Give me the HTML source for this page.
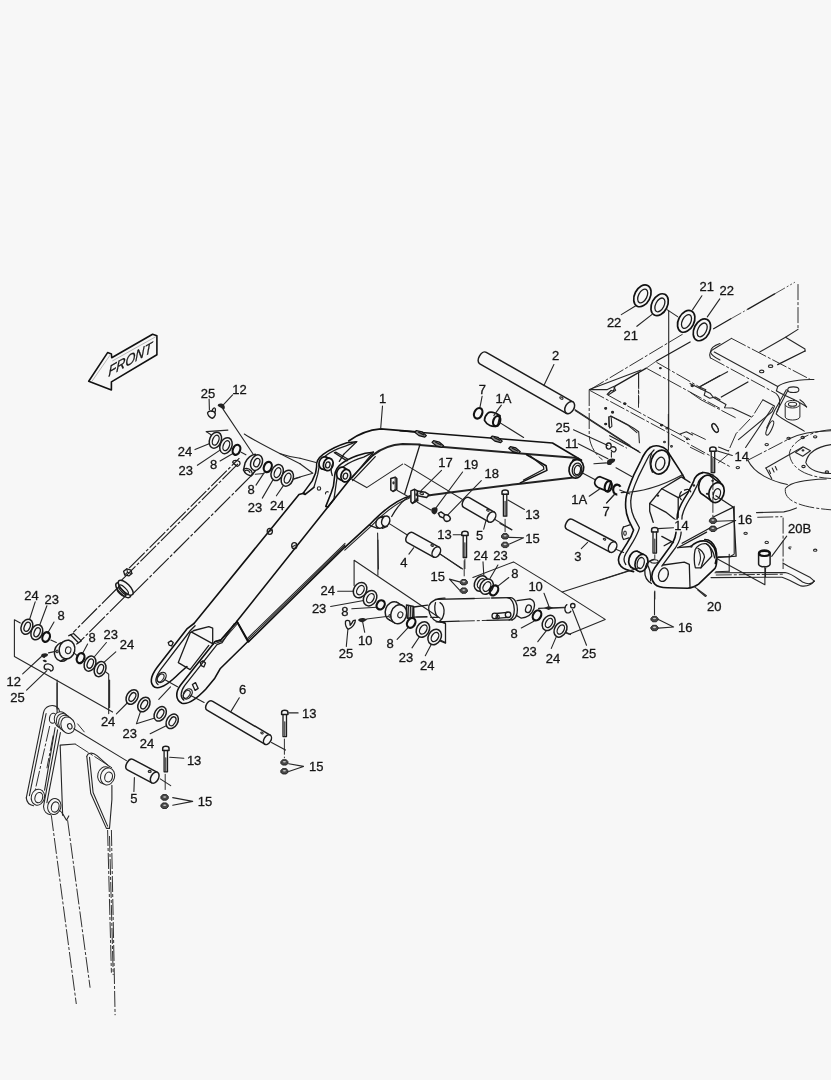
<!DOCTYPE html>
<html><head><meta charset="utf-8"><title>Boom parts diagram</title>
<style>
html,body{margin:0;padding:0;background:#f7f7f7;}
body{width:831px;height:1080px;overflow:hidden;}
svg{display:block;filter:grayscale(1) blur(.4px);}
.k{fill:none;stroke:#1c1c1c;stroke-width:1.3;stroke-linecap:round;stroke-linejoin:round;}
.b{fill:none;stroke:#111;stroke-width:1.6;stroke-linecap:round;stroke-linejoin:round;}
.h{fill:none;stroke:#222;stroke-width:2;stroke-linecap:round;stroke-linejoin:round;}
.t{fill:none;stroke:#262626;stroke-width:1.1;stroke-linecap:round;stroke-linejoin:round;}
.g{fill:none;stroke:#999;stroke-width:.7;}
.d{fill:none;stroke:#262626;stroke-width:.95;stroke-dasharray:16 2 3 2;}
.D{fill:none;stroke:#1c1c1c;stroke-width:1.15;stroke-dasharray:22 2 3 2;}
.p{fill:none;stroke:#2a2a2a;stroke-width:.8;stroke-dasharray:12 2 2 2 2 2;}
.kf{fill:#f7f7f7;stroke:#1c1c1c;stroke-width:1.5;stroke-linejoin:round;}
.tf{fill:#f7f7f7;stroke:#262626;stroke-width:1;stroke-linejoin:round;}
.bf{fill:#f7f7f7;stroke:#111;stroke-width:1.7;stroke-linejoin:round;}
.o{fill:none;stroke:#111;stroke-width:2.2;}
.x{fill:#222;stroke:none;}
.n{fill:#4a4a4a;stroke:#111;stroke-width:.8;stroke-linejoin:round;}
.nh{fill:#c8c8c8;stroke:none;}
.c{fill:#8a8a8a;stroke:#111;stroke-width:1.2;stroke-linejoin:round;}
text{stroke:#151515;stroke-width:.3px;font-family:"Liberation Sans",sans-serif;font-size:13px;fill:#151515;}
</style></head><body>
<svg width="831" height="1080" viewBox="0 0 831 1080">
<!-- FRONT arrow -->
<polygon class="b" points="88.7,381.3 107.6,352.6 111.4,354 111.7,357.8 152.6,334.2 156.9,335.8 156.9,354.8 111.4,381.9 111.4,390"/>
<polyline class="g" points="92.1,381.1 110.5,354.5"/>
<polyline class="g" points="112.3,361 155.8,336.7"/>
<text transform="matrix(.85,-.48,-.04,1.02,108.2,376.9)" style="font-size:15px;font-style:italic">FRONT</text>
<!-- upper clevis, rings 24/23/8, labels 25/12 -->
<text x="200.8" y="397.5">25</text>
<text x="232.3" y="394.4">12</text>
<text x="177.8" y="456.2">24</text>
<text x="178.6" y="475.4">23</text>
<text x="210" y="468.9">8</text>
<text x="247.4" y="493.9">8</text>
<text x="247.7" y="512.2">23</text>
<text x="270.1" y="509.5">24</text>
<polyline class="t" points="209.1,399.1 209.4,409.7"/>
<polyline class="t" points="232.6,394.9 223.5,404.7"/>
<polyline class="t" points="195,449.6 209.1,443.8"/>
<polyline class="t" points="197.4,465.3 220.4,449.9"/>
<polyline class="t" points="220.1,461 232.9,453.5"/>
<polyline class="t" points="256,485.1 264.2,472.6"/>
<polyline class="t" points="262.3,498.1 272.8,480.1"/>
<polyline class="t" points="276.4,495.8 283.7,485.1"/>
<path class="k" d="M207.5 412.9C208.3 410.5 212.2 410.5 214.6 412.1C216.1 413.6 215.4 416.8 212.2 418.3C209.9 417.5 207.9 415.2 207.5 412.9Z"/>
<path class="k" d="M211.9 411.3C212.6 408.2 214.6 406.9 215.4 408.9C215.7 410.5 215.1 412.1 214.6 412.9"/>
<path class="x" d="M217.7 405.8C217.7 403.5 221.6 402.7 224 405C225.5 406.9 224.8 409.7 223.2 409.7C221.6 407.8 219.3 407.4 217.7 405.8Z"/>
<polyline class="t" points="223.2,409.4 252.9,453.8"/>
<polyline class="t" points="206.3,431.6 227.9,430.1"/>
<polyline class="t" points="206.3,431.6 211,434.8"/>
<path class="t" d="M244.3 434C257.6 442.6 279.5 453.5 300 463.7"/>
<path class="t" d="M279.5 453.5C288.9 456.7 295.2 457.7 300 458.2"/>
<polyline class="t" points="293.6,479.3 300,477.3"/>
<ellipse class="kf" cx="215.4" cy="440.2" rx="5.8" ry="8.3" transform="rotate(22 215.4 440.2)"/>
<ellipse class="k" cx="215.7" cy="440.2" rx="3" ry="5.2" transform="rotate(22 215.7 440.2)"/>
<ellipse class="kf" cx="226" cy="445.7" rx="5.8" ry="8.3" transform="rotate(22 226 445.7)"/>
<ellipse class="k" cx="226.3" cy="445.7" rx="3" ry="5.2" transform="rotate(22 226.3 445.7)"/>
<ellipse class="o" cx="236.5" cy="449.8" rx="3.6" ry="5.2" transform="rotate(22 236.5 449.8)"/>
<polyline class="t" points="241.2,452.3 245.9,454.8"/>
<path class="kf" d="M255.3 454.3C251.3 454.8 247.4 458.2 245.1 462.9L243.5 470C245.1 473.9 248.2 475.4 251.3 475.7L255.3 470.7Z"/>
<ellipse class="kf" cx="256.5" cy="462.6" rx="5.6" ry="8.1" transform="rotate(22 256.5 462.6)"/>
<ellipse class="k" cx="256.8" cy="462.6" rx="2.8" ry="4.4" transform="rotate(22 256.8 462.6)"/>
<path class="k" d="M243.5 470C244.3 467.6 248.2 467.6 251.3 470.7C252.6 473.1 252.1 475.1 251.3 475.7"/>
<path class="k" d="M245.1 470.7C246.7 469.5 249 470.4 249.8 472.3"/>
<path class="k" d="M232.6 462.1C233.4 459.8 237.3 459.8 239.6 461.7C240.7 463.7 239.6 465.7 237.3 466.4C235.7 464.5 233.4 464.2 232.6 462.1Z"/>
<polyline class="t" points="255.3,474.2 263.9,473.5"/>
<ellipse class="o" cx="267.8" cy="467" rx="3.8" ry="5.3" transform="rotate(22 267.8 467)"/>
<ellipse class="kf" cx="277.2" cy="472.6" rx="5.8" ry="8.3" transform="rotate(22 277.2 472.6)"/>
<ellipse class="k" cx="277.5" cy="472.6" rx="3" ry="5.2" transform="rotate(22 277.5 472.6)"/>
<ellipse class="kf" cx="287.3" cy="478.2" rx="5.8" ry="8.3" transform="rotate(22 287.3 478.2)"/>
<ellipse class="k" cx="287.6" cy="478.2" rx="3" ry="5.2" transform="rotate(22 287.6 478.2)"/>
<!-- left cylinder body (phantom) -->
<polyline class="D" points="129.1,568.1 239.4,458.1"/>
<polyline class="D" points="119.9,581.9 238.3,463.5"/>
<polyline class="D" points="132.6,594.2 253.5,473.5"/>
<polygon class="k" points="123.6,571.2 126.8,568.9 131,570.1 131.9,573.6 128.8,575.9 124.7,574.8"/>
<polyline class="t" points="126.8,568.9 127.5,572.3 124.7,574.8"/>
<polyline class="t" points="127.5,572.3 131.9,573.6"/>
<ellipse class="kf" cx="123.2" cy="590.2" rx="4.1" ry="9.7" transform="rotate(-45 123.2 590.2)"/>
<ellipse class="kf" cx="125.7" cy="587.7" rx="4.1" ry="9.7" transform="rotate(-45 125.7 587.7)"/>
<ellipse class="k" cx="123.5" cy="589.9" rx="2.5" ry="6.3" transform="rotate(-45 123.5 589.9)"/>
<ellipse class="k" cx="121.3" cy="592" rx="2.3" ry="5.6" transform="rotate(-45 121.3 592)"/>
<polyline class="D" points="117.5,588 73.3,632.3"/>
<polyline class="D" points="125.4,596.1 80.6,640.9"/>
<!-- rod eye + lower rings + labels -->
<text x="24.2" y="599.8">24</text>
<text x="44.6" y="604.1">23</text>
<text x="57.6" y="619.5">8</text>
<text x="88.4" y="641.7">8</text>
<text x="103.6" y="639">23</text>
<text x="119.7" y="649">24</text>
<text x="6.6" y="686.3">12</text>
<text x="10.2" y="701.9">25</text>
<polyline class="t" points="35.2,601.8 29.7,619"/>
<polyline class="t" points="46.9,605.7 39.9,624.5"/>
<polyline class="t" points="54,622.1 47.7,633.1"/>
<polyline class="t" points="87.6,644 82.1,654.2"/>
<polyline class="t" points="106.4,642.5 94.6,656.5"/>
<polyline class="t" points="115.8,651.9 102.5,663.6"/>
<polyline class="t" points="22.7,673.8 41.5,656.5"/>
<polyline class="t" points="26.6,690.2 46.9,670.6"/>
<polyline class="t" points="20.3,622.9 14.4,619.8 14.4,656.5 112.6,712.1"/>
<polyline class="t" points="105.1,671.4 108.7,674.2 108.7,713.6"/>
<polyline class="t" points="57.1,683.1 57.1,709"/>
<ellipse class="kf" cx="26.9" cy="626.8" rx="5.6" ry="7.8" transform="rotate(22 26.9 626.8)"/>
<ellipse class="k" cx="27.2" cy="626.8" rx="2.8" ry="4.8" transform="rotate(22 27.2 626.8)"/>
<ellipse class="kf" cx="36.8" cy="632.3" rx="5.6" ry="7.8" transform="rotate(22 36.8 632.3)"/>
<ellipse class="k" cx="37.1" cy="632.3" rx="2.8" ry="4.8" transform="rotate(22 37.1 632.3)"/>
<ellipse class="o" cx="46.1" cy="637" rx="3.6" ry="5" transform="rotate(22 46.1 637)"/>
<polyline class="t" points="50.8,640.1 56.3,642.5"/>
<ellipse class="kf" cx="62.3" cy="651.9" rx="7.8" ry="9.4" transform="rotate(12 62.3 651.9)"/>
<polygon fill="#f7f7f7" stroke="none" points="60.3,661 65,658.7 68.9,640.3 64.2,642.7"/>
<polyline class="k" points="60.4,661.1 65.1,658.7"/>
<polyline class="k" points="64.1,642.6 68.8,640.3"/>
<ellipse class="kf" cx="67" cy="649.5" rx="7.8" ry="9.4" transform="rotate(12 67 649.5)"/>
<ellipse class="t" cx="68.2" cy="650.3" rx="2.7" ry="3.4" transform="rotate(12 68.2 650.3)"/>
<path class="k" d="M68.8 635.7L73.5 633.5L81.3 640.9L76.7 644"/>
<path class="k" d="M70.7 634.8L78.2 642.5"/>
<ellipse class="t" cx="57.1" cy="651.4" rx="0.9" ry="1.4"/>
<polyline class="t" points="48.5,652.9 55.5,651.4"/>
<polyline class="t" points="73.5,652.6 77.4,655.8"/>
<ellipse class="o" cx="80.6" cy="658.1" rx="3.6" ry="5.2" transform="rotate(22 80.6 658.1)"/>
<ellipse class="kf" cx="90" cy="663.6" rx="5.6" ry="7.8" transform="rotate(22 90 663.6)"/>
<ellipse class="k" cx="90.3" cy="663.6" rx="2.8" ry="4.8" transform="rotate(22 90.3 663.6)"/>
<ellipse class="kf" cx="100.1" cy="669.1" rx="5.6" ry="7.8" transform="rotate(22 100.1 669.1)"/>
<ellipse class="k" cx="100.4" cy="669.1" rx="2.8" ry="4.8" transform="rotate(22 100.4 669.1)"/>
<path class="x" d="M41 655.5C41.5 653.4 45.4 652.6 47.7 653.9C48.8 655 46.9 656.5 45.4 657C44.6 658.9 42.2 657.6 41 655.5Z"/>
<path class="x" d="M42.6 660.5C43.8 659.2 46.1 659.7 46.9 661.2C46.1 662.8 43.8 662.3 42.6 660.5Z"/>
<path class="k" d="M44.6 665.2C46.1 663.3 50.1 663.6 52.4 665.9C54 668.3 53.2 670.6 50.8 671.1C49.7 669.1 46.9 668.6 45.4 669.5C44.1 668.3 43.8 666.7 44.6 665.2Z"/>
<!-- boom knuckle -->
<path class="b" d="M348.7 441C358.8 433.6 371.3 429.7 380.7 428.9L420 432.1"/>
<path class="h" d="M372.9 455.1C382.3 447.7 391.7 444.6 402.6 444L420 444.6"/>
<polyline class="b" points="372.9,455.1 350.2,479"/>
<polyline class="k" points="375.3,456.6 352.6,480.6"/>
<path class="b" d="M410.5 495.7C397.9 499.3 383.9 509.5 369 525.2L345.1 547.1"/>
<path class="t" d="M409.2 498.2C399.5 501.4 385.4 511.4 370.9 526.4L344.8 550.2"/>
<path class="k" d="M410.5 495.7C402.6 500.1 396.4 507.9 391.7 516.5"/>
<path class="k" d="M369 525.2L377.6 528.3"/>
<ellipse class="kf" cx="380.4" cy="522.8" rx="4.4" ry="5.6" transform="rotate(20 380.4 522.8)"/>
<ellipse class="kf" cx="385.7" cy="521.2" rx="3.9" ry="5.3" transform="rotate(20 385.7 521.2)"/>
<polyline class="k" points="379.2,517.6 384.6,516.1"/>
<polyline class="k" points="382.3,528.3 387.3,526.4"/>
<polyline class="t" points="389.3,523.6 406.5,534.5"/>
<polyline class="t" points="377.6,533 378.4,569"/>
<path class="b" d="M356.6 441.7L346.9 442.8C339.3 445.2 330.7 449 323.1 454.4C317.7 458.4 316 462.5 316.6 466.8L315.5 473.3L312.2 480.9L303 493.4L305.2 494.4L313.9 487.4"/>
<path class="k" d="M356.6 441.7L345.3 446.2C338.2 448.4 330.7 451.7 324.7 456.5C320.4 460.3 318.7 463.6 319 467.4L317.7 474.4L313.9 487.4"/>
<polyline class="k" points="356.6,441.7 343.7,454.4"/>
<ellipse class="bf" cx="323.9" cy="463" rx="4.8" ry="6.3" transform="rotate(15 323.9 463)"/>
<polygon fill="#f7f7f7" stroke="none" points="322.3,469.1 326.6,470.5 329.9,458.4 325.6,457"/>
<polyline class="b" points="322.3,469.1 326.6,470.5"/>
<polyline class="b" points="325.6,457 329.9,458.4"/>
<ellipse class="bf" cx="328.3" cy="464.4" rx="4.8" ry="6.3" transform="rotate(15 328.3 464.4)"/>
<ellipse class="k" cx="327.8" cy="464.9" rx="2.2" ry="3" transform="rotate(15 327.8 464.9)"/>
<path class="b" d="M373.4 452.2L365.3 453.3C356.6 455.5 348 458.7 341.5 463.6C337.2 466.6 335.2 470.1 334.7 475.5L333.4 486.3L331.2 492.8L325.8 506.4L327.9 507.1L333.9 499.3"/>
<path class="k" d="M373.4 452.2L363.7 457.1C356.6 459.2 350.2 461.9 344.7 465.7C340.4 468.4 337.7 471.7 337.2 476.6L335.5 488.5L333.9 499.3"/>
<polyline class="k" points="373.4,452.2 352.3,477.7"/>
<ellipse class="bf" cx="341.5" cy="473.3" rx="4.8" ry="6.3" transform="rotate(15 341.5 473.3)"/>
<polygon fill="#f7f7f7" stroke="none" points="339.9,479.4 344.2,481.8 347.4,469.6 343.1,467.3"/>
<polyline class="b" points="339.9,479.4 344.2,481.8"/>
<polyline class="b" points="343.1,467.3 347.4,469.6"/>
<ellipse class="bf" cx="345.8" cy="475.7" rx="4.8" ry="6.3" transform="rotate(15 345.8 475.7)"/>
<ellipse class="k" cx="345.4" cy="476.1" rx="2.2" ry="3" transform="rotate(15 345.4 476.1)"/>
<path class="k" d="M334.4 452.7L346.9 460.9L348 459.2L336.1 452.2Z"/>
<polyline class="k" points="343.7,454.4 339.3,461.4"/>
<path class="k" d="M333.4 462.5C331.2 465.7 330.7 471.2 332.3 475.5"/>
<ellipse class="t" cx="319" cy="488.5" rx="1.7" ry="1.7"/>
<path class="t" d="M325.5 493.9C325.2 492.3 326.9 491.2 328.3 491.9"/>
<polyline class="t" points="300,458.2 316,462.5"/>
<polyline class="t" points="300,463.7 312.8,473.3 293.8,478.7"/>
<polyline class="t" points="350.2,478.2 366.7,487.6 402.6,464.1"/>
<polyline class="b" points="304.5,493 299,494.5 194,623.5"/>
<polyline class="b" points="350.2,479 236.9,621.2 248.6,641.6"/>
<polyline class="b" points="345,546.9 248.6,641.6"/>
<polyline class="t" points="345,545 247.8,640"/>
<polyline class="t" points="345,543.4 247.2,638.6"/>
<polyline class="t" points="236.9,621.2 221.3,639.2 215,641.6"/>
<polyline class="t" points="238,623 222.5,641 215,643.5"/>
<ellipse class="k" cx="269.8" cy="531.3" rx="2.6" ry="3"/>
<polyline class="t" points="267.8,532.3 271.8,530.3"/>
<ellipse class="k" cx="294.3" cy="545.7" rx="2.6" ry="3"/>
<polyline class="t" points="292.3,546.7 296.3,544.7"/>
<!-- boom mid-right + pins 4,5, bolts, labels 17/19/18 -->
<polyline class="b" points="400,430.7 552.5,443 581.5,460.2"/>
<polyline class="h" points="419.6,445.1 530,454.3 577.6,458"/>
<polyline class="k" points="419.6,445.7 404.7,493.9"/>
<path class="h" d="M426.6 495.7C446.9 492.6 478.2 488.7 520.3 483.7L573.5 477.4"/>
<polyline class="b" points="526.6,454.8 546.1,465.7 546.9,470.4 520.3,482.9"/>
<polyline class="k" points="530,455.8 543.5,466.5 543.8,469.3 523.5,480.1"/>
<ellipse class="bf" cx="576.3" cy="468.8" rx="7.2" ry="9.4" transform="rotate(12 576.3 468.8)"/>
<ellipse class="k" cx="577" cy="469.6" rx="4.7" ry="6.6" transform="rotate(12 577 469.6)"/>
<ellipse class="k" cx="577.4" cy="470.1" rx="3.1" ry="4.7" transform="rotate(12 577.4 470.1)"/>
<path class="b" d="M581.3 460.2C578.2 459.1 575.1 459.1 572.7 460.2"/>
<path class="c" d="M416.4 430.5l5.6 1.3l4.4 3.8l-1.6 1.6l-5.9 -1.6l-4.1 -3.4Z"/>
<path class="k" d="M418.5 432.1l5.3 2.8"/>
<path class="c" d="M433.6 440.7l5.6 1.3l4.4 3.8l-1.6 1.6l-5.9 -1.6l-4.1 -3.4Z"/>
<path class="k" d="M435.7 442.2l5.3 2.8"/>
<path class="c" d="M492.3 436l5.6 1.3l4.4 3.8l-1.6 1.6l-5.9 -1.6l-4.1 -3.4Z"/>
<path class="k" d="M494.3 437.5l5.3 2.8"/>
<path class="c" d="M510.3 446.6l5.6 1.3l4.4 3.8l-1.6 1.6l-5.9 -1.6l-4.1 -3.4Z"/>
<path class="k" d="M512.3 448.2l5.3 2.8"/>
<ellipse class="o" cx="478.2" cy="413.3" rx="3.9" ry="5.5" transform="rotate(25 478.2 413.3)"/>
<path class="bf" d="M487.6 413.3C490 411 493.9 411.7 500.1 415.6L497.8 425.8C492.3 427.4 486.8 425 484.5 420.3C484.5 417.2 486 414.9 487.6 413.3Z"/>
<ellipse class="o" cx="496.7" cy="421.1" rx="3.4" ry="5.2" transform="rotate(20 496.7 421.1)"/>
<polyline class="t" points="498.6,421.9 523.6,437.5"/>
<text x="438.3" y="467.3">17</text>
<text x="463.8" y="468.5">19</text>
<text x="484.5" y="477.7">18</text>
<text x="437.2" y="538.9">13</text>
<text x="475.9" y="539.7">5</text>
<polyline class="t" points="441.5,470.4 421.1,490.7"/>
<polyline class="t" points="462.6,472 436,507.9"/>
<polyline class="t" points="481.3,480.6 446.9,515.8"/>
<polyline class="t" points="453.2,534.8 461.8,534.8"/>
<polyline class="t" points="483.7,529.1 486,520.5"/>
<polyline class="t" points="404.7,464.1 511.9,529.8"/>
<path class="kf" d="M463.7 507.3L488.7 521.9L494.3 512.2L469.3 497.6C465.1 495.1 459.4 504.8 463.7 507.3Z"/>
<ellipse class="kf" cx="491.5" cy="517" rx="3.8" ry="5.6" transform="rotate(30.1672956103844 491.5 517)"/>
<ellipse class="t" cx="487.9" cy="510.3" rx="1.3" ry="0.8" transform="rotate(20 487.9 510.3)"/>
<path class="kf" d="M407.5 542.7L433.6 557.1L439 547.1L412.8 532.7C408.6 530.3 403.1 540.2 407.5 542.7Z"/>
<ellipse class="kf" cx="436.3" cy="552.1" rx="3.8" ry="5.6" transform="rotate(28.850289908256386 436.3 552.1)"/>
<ellipse class="t" cx="432.1" cy="545.5" rx="1.3" ry="0.8" transform="rotate(20 432.1 545.5)"/>
<polyline class="t" points="440.4,554.1 462.6,569"/>
<path class="kf" d="M502 492c0 -2.8 6.3 -2.8 6.3 0l0 2.2l-6.3 0Z"/>
<polyline class="k" points="503.4,494.2 503.4,516.2 506.8,516.2 506.8,494.2"/>
<polyline class="t" points="505.1,501.4 505.1,515.9"/>
<polyline class="d" points="505.1,518.9 505.1,532.2"/>
<path class="kf" d="M461.8 533.3c0 -2.8 6.3 -2.8 6.3 0l0 2.2l-6.3 0Z"/>
<polyline class="k" points="463.2,535.5 463.2,557.5 466.6,557.5 466.6,535.5"/>
<polyline class="t" points="464.9,542.7 464.9,557.2"/>
<polyline class="d" points="464.9,558.8 464.9,569"/>
<path class="n" d="M501.5 535.6l1.7 -2l3.8 0l1.7 2l0 1.7l-1.7 1.7l-3.8 0l-1.7 -1.7Z"/>
<ellipse class="nh" cx="505.1" cy="535.8" rx="1.6" ry="0.8"/>
<path class="n" d="M501.5 544.2l1.7 -2l3.8 0l1.7 2l0 1.7l-1.7 1.7l-3.8 0l-1.7 -1.7Z"/>
<ellipse class="nh" cx="505.1" cy="544.4" rx="1.6" ry="0.8"/>
<text x="525.2" y="518.9">13</text>
<text x="525.2" y="543.1">15</text>
<polyline class="t" points="507.9,500.1 524.4,509.5"/>
<polyline class="t" points="509.5,537.4 523.6,537.7 509.5,543.9"/>
<path class="kf" d="M390.8 478.5L395.2 477.2L396.8 478.5L396.8 489.3L393 491.5L390.8 489.9Z"/>
<polyline class="t" points="395.2,477.2 395.2,489.3 393,491.5"/>
<ellipse class="t" cx="393.5" cy="482.8" rx="0.6" ry="1.1"/>
<polyline class="t" points="397.3,490.4 409.8,497.4"/>
<path class="kf" d="M410.9 490.9L414.7 489.3L417.4 490.9L417.7 500.7L412.5 503.4L410.9 501.8Z"/>
<polyline class="k" points="414.7,489.3 414.9,500.7 412.5,503.4"/>
<polyline class="k" points="414.9,500.7 417.7,500.7"/>
<path class="kf" d="M417.4 490.9L425.5 492.3L429 494.7L426.6 497.4L417.7 495.8Z"/>
<ellipse class="t" cx="421.7" cy="493.6" rx="1.9" ry="0.9" transform="rotate(15 421.7 493.6)"/>
<ellipse class="t" cx="416.3" cy="494.7" rx="0.5" ry="0.8"/>
<ellipse class="t" cx="416.3" cy="499.6" rx="0.5" ry="0.8"/>
<polyline class="t" points="417.4,502.3 430.9,509.9"/>
<path class="x" d="M431.3 509.5C432.1 507.2 435.2 506.4 437.2 507.9C438.3 510.3 436.8 513.4 434.4 514.5C432.1 513.9 431 511.9 431.3 509.5Z"/>
<path class="kf" d="M438.3 513.4L441 511.9L445.4 515L443.8 518.1L439.9 516.5Z"/>
<path class="kf" d="M444.6 515C446.9 513.9 450.1 515.8 450.4 518.6C450.1 521.2 446.9 522 445.1 520.8C443.5 519.2 443.5 516.5 444.6 515Z"/>
<!-- boom tip area: 1A, 7, 25, 11, pin 3, pin 2 end -->
<text x="555.5" y="432.1">25</text>
<text x="564.9" y="447.7">11</text>
<text x="571.2" y="504">1A</text>
<text x="602.5" y="515.8">7</text>
<text x="574.3" y="561.1">3</text>
<polyline class="t" points="573.5,429.7 607.9,445.4"/>
<polyline class="t" points="578.2,443.8 607.9,458.7"/>
<polyline class="t" points="589.2,496.2 599.3,489.2"/>
<polyline class="t" points="606.4,503.2 614.2,494.6"/>
<polyline class="t" points="581.3,548.6 587.6,542.4"/>
<polyline class="t" points="580.6,472 595.7,480.1"/>
<path class="bf" d="M600.1 476.7C597 477 594.6 479.8 594.6 482.9C595.1 486 597.8 487.6 600.1 488.4L607.9 491.5L611.1 481.3Z"/>
<ellipse class="o" cx="608.3" cy="486.4" rx="3.4" ry="5.3" transform="rotate(15 608.3 486.4)"/>
<path class="o" d="M620.5 486.8C618.9 483.7 615 483.7 613.4 487.6C612.3 491.5 614.2 494.6 617.3 494.6"/>
<polyline class="t" points="619.7,490 630,493.9"/>
<polyline class="t" points="575.1,409.7 630,445.4"/>
<ellipse class="k" cx="608.7" cy="446.1" rx="2.5" ry="3.1"/>
<path class="k" d="M611.9 446.9C615.8 446.1 617.3 449.3 615 451.6C613.4 452.4 611.9 451.6 611.4 450.4"/>
<polyline class="t" points="611.4,452.4 611.4,457.1"/>
<path class="x" d="M607.2 461C607.9 458.7 612.6 457.6 615 459.1C615.8 461.3 613.4 462.9 611.9 463.4C611.4 465.4 607.9 465.7 606.7 463.8Z"/>
<polyline class="t" points="593.9,463.8 606.4,462.9"/>
<path class="d" d="M589.2 390L589.2 436C590 445.4 595.4 454.8 602.5 459.8"/>
<path class="kf" d="M567 529.4L610 552.1L615.3 542L572.3 519.4C567.9 517.2 562.7 527 567 529.4Z"/>
<ellipse class="kf" cx="612.6" cy="547.1" rx="3.8" ry="5.6" transform="rotate(27.801458779934134 612.6 547.1)"/>
<ellipse class="t" cx="604.5" cy="539.2" rx="1.3" ry="0.8" transform="rotate(20 604.5 539.2)"/>
<polyline class="t" points="616.5,549.4 623.6,552.5"/>
<polyline class="t" points="500,523.6 511.7,529.8"/>
<!-- pin 2, labels 2/7/1A -->
<path class="kf" d="M479.8 363.8L566.4 413.4L572.9 401.9L486.3 352.3C481.5 349.6 475 361.1 479.8 363.8Z"/>
<ellipse class="kf" cx="569.7" cy="407.6" rx="4.3" ry="6.5" transform="rotate(29.780535168826198 569.7 407.6)"/>
<ellipse class="t" cx="561.4" cy="398.1" rx="1.8" ry="1" transform="rotate(25 561.4 398.1)"/>
<text x="551.9" y="360.1">2</text>
<polyline class="t" points="553.9,364.6 543.9,385.6"/>
<text x="478.8" y="393.9">7</text>
<polyline class="t" points="482.1,396.4 480,407.1"/>
<text x="495.6" y="403.1">1A</text>
<polyline class="t" points="501.3,405.1 493.8,415.6"/>
<polyline class="t" points="575.2,410.6 640.2,452.7"/>
<!-- swing bracket 20 -->
<path class="b" d="M650.1 447.5C645.4 451.1 643 455.8 641 460.5L633.6 475.4C629.7 484.8 625.8 494.1 625.8 500.4C625 508.2 626.6 515.3 628.9 520.7L633.6 530.1C632.1 534.8 629.7 539.5 627.4 542.6L620 554.4C617.5 559.1 618 563 621.1 566.4C624.2 569.5 628.9 570.8 633.6 571.6"/>
<path class="k" d="M654 450C650.1 453.5 647.7 457.4 646.1 461.3L638.3 476.9C634.4 485.5 630.8 494.1 630.8 500.4C630.5 507.4 631.8 512.9 634.1 517.6L639.4 527.8C637.9 533.2 635.2 537.9 632.9 541.9L625.8 553.6C623.5 557.5 623.5 561.4 625.8 564.5"/>
<path class="b" d="M650.1 447.5C654.8 444.4 662.6 445.6 667.3 450.3L670.4 455.8L681.3 472.6L684.5 478.5"/>
<ellipse class="bf" cx="660.2" cy="462.1" rx="9.1" ry="12.2" transform="rotate(18 660.2 462.1)"/>
<ellipse class="k" cx="660.2" cy="463.6" rx="4.4" ry="6.6" transform="rotate(18 660.2 463.6)"/>
<path class="k" d="M651.6 453.5C649.3 458.2 649.3 466 652.4 472.2"/>
<ellipse class="bf" cx="635.2" cy="559.8" rx="6.3" ry="8.8" transform="rotate(15 635.2 559.8)"/>
<polygon fill="#f7f7f7" stroke="none" points="632.9,568.3 639.2,571.4 643.7,554.5 637.5,551.4"/>
<polyline class="b" points="633,568.3 639.3,571.4"/>
<polyline class="b" points="637.4,551.4 643.6,554.5"/>
<ellipse class="bf" cx="641.5" cy="563" rx="6.3" ry="8.8" transform="rotate(15 641.5 563)"/>
<ellipse class="k" cx="640.7" cy="563" rx="3.4" ry="5.6" transform="rotate(15 640.7 563)"/>
<polyline class="k" points="661.8,488.7 678.2,497.6 678.2,517.6"/>
<polyline class="k" points="661.8,488.7 681.3,476.9 690,482.4"/>
<polyline class="k" points="678.2,497.6 687.6,491.8"/>
<polyline class="k" points="661.8,488.7 649.7,503.5 649.7,511.3 653.2,522.3"/>
<polyline class="k" points="649.7,503.5 665.7,512.1 676.7,520.7"/>
<ellipse class="t" cx="657.9" cy="495.7" rx="0.8" ry="0.6"/>
<ellipse class="t" cx="693.9" cy="485.5" rx="0.8" ry="0.6"/>
<path class="k" d="M681.3 491.8C679 494.1 679 498.1 681.3 499.6"/>
<path class="k" d="M684.5 490.2C687.6 488.7 690 489.4 690.7 491.8"/>
<path class="b" d="M702.5 472.6C697.8 473.8 694.6 476.9 693.5 481.6L687.6 493.4C682.9 500.4 679 506.7 677.4 514.5L675.9 533.2C675.1 539.5 672 545 667.3 550.5L654.8 567.7C650.8 573.1 650.8 580.2 654.8 584.1C657.9 587.2 662.6 587.7 667.3 587.7L687.6 588.3C692.3 588 695.4 586.4 698.6 584.1L715 568.4C717.3 564.5 717.3 555.2 715.8 548.9C713.4 542.6 709.5 539.5 704.8 539.5"/>
<path class="k" d="M706.4 475.4C701.7 476.6 698.9 479.7 697.8 484L692.3 494.9C687.6 502 683.7 508.2 682.1 516L681 534C680.1 540.3 677 546.5 672.3 552L661.8 566.1"/>
<path class="b" d="M702.5 472.6C709.5 471.9 716.5 476.9 720.5 482.4"/>
<ellipse class="bf" cx="706.4" cy="485.1" rx="7.4" ry="10.2" transform="rotate(18 706.4 485.1)"/>
<polygon fill="#f7f7f7" stroke="none" points="703.2,494.7 713.4,502.2 719.7,482.9 709.5,475.4"/>
<polyline class="b" points="703.2,494.8 713.4,502.3"/>
<polyline class="b" points="709.5,475.4 719.7,482.9"/>
<ellipse class="bf" cx="716.5" cy="492.6" rx="7.4" ry="10.2" transform="rotate(18 716.5 492.6)"/>
<ellipse class="k" cx="716.9" cy="494.1" rx="3.4" ry="5.6" transform="rotate(18 716.9 494.1)"/>
<ellipse class="t" cx="712.6" cy="480.8" rx="0.8" ry="0.6"/>
<ellipse class="t" cx="707.2" cy="493.8" rx="0.8" ry="0.6"/>
<ellipse class="k" cx="663.4" cy="574.7" rx="4.7" ry="6.9" transform="rotate(18 663.4 574.7)"/>
<polyline class="k" points="663.3,565 684.3,562.1 689.3,564.3 690,586.9"/>
<path class="b" d="M690.8 546.5C695.1 542.6 700.9 540.1 706.6 541.2C712.4 543.3 716 549.1 716.5 557.8L715.3 563.5"/>
<path class="k" d="M695.1 549.8C697.3 545.5 701.6 543.3 705.9 543.6C709.5 545.1 711.7 549.8 711.7 556.3L700.9 567.9L695.4 567.9C693.9 563.5 693.9 554.9 695.1 549.8Z"/>
<path class="k" d="M698 548.4C700.9 549.8 703.8 552.7 704.5 557L700.9 567.9"/>
<path class="t" d="M698.7 550.5C700.9 554.9 700.9 560.6 698.7 565"/>
<path class="k" d="M706.6 544C710.3 546.2 713.9 552 714.6 557.8"/>
<polyline class="k" points="677.8,547.7 690.8,546.5"/>
<polyline class="k" points="677.8,547.7 706.6,532.1"/>
<polyline class="k" points="682.1,543.3 709.5,528.2"/>
<ellipse class="t" cx="691.5" cy="546.5" rx="0.6" ry="0.6"/>
<path class="k" d="M653.5 559.5C648.6 560.6 645.3 565 644.8 570.8C644.5 576.5 647.4 581.2 651.5 583.5"/>
<ellipse class="t" cx="654.4" cy="561.4" rx="3.8" ry="1.7"/>
<path class="k" d="M646.7 563.5C649.6 567.9 651 575.1 650.6 580.9"/>
<path class="kf" d="M709.8 449.1c0 -2.8 6.3 -2.8 6.3 0l0 2.2l-6.3 0Z"/>
<polyline class="k" points="711.2,451.3 711.2,472.6 714.7,472.6 714.7,451.3"/>
<polyline class="t" points="712.9,458.5 712.9,472.2"/>
<path class="kf" d="M651.6 529.7c0 -2.8 6.3 -2.8 6.3 0l0 2.2l-6.3 0Z"/>
<polyline class="k" points="653,531.8 653,553.1 656.5,553.1 656.5,531.8"/>
<polyline class="t" points="654.8,539 654.8,552.8"/>
<rect x="673.8" y="519.6" width="15.6" height="12" fill="#f7f7f7"/>
<text x="674.3" y="530.1">14</text>
<polyline class="t" points="657.6,528.6 673.5,527.8"/>
<polyline class="d" points="712.9,473.8 712.9,517.6"/>
<polyline class="d" points="654.8,554.4 654.8,559.8"/>
<path class="n" d="M709.4 520l1.7 -2l3.8 0l1.7 2l0 1.7l-1.7 1.7l-3.8 0l-1.7 -1.7Z"/>
<ellipse class="nh" cx="712.9" cy="520.1" rx="1.6" ry="0.8"/>
<path class="n" d="M709.4 528.1l1.7 -2l3.8 0l1.7 2l0 1.7l-1.7 1.7l-3.8 0l-1.7 -1.7Z"/>
<ellipse class="nh" cx="712.9" cy="528.2" rx="1.6" ry="0.8"/>
<polyline class="t" points="668.4,414.4 668.4,450.3"/>
<polyline class="t" points="607,502.7 614.1,494.9"/>
<path class="t" d="M621.1 492.6C646.9 492.6 667.3 483.2 682.9 474.6"/>
<polyline class="t" points="600,580.2 639.1,567.7"/>
<polyline class="t" points="654.8,591.1 654.8,599"/>
<polyline class="t" points="693.9,586.4 706.4,595.8"/>
<path class="k" d="M623.5 527C621.1 530.1 621.6 536.4 623.5 539.5L628.9 537.9"/>
<path class="k" d="M623.5 527L630.5 524.6"/>
<ellipse class="t" cx="625" cy="533.2" rx="1.3" ry="2.2"/>
<polyline class="k" points="661.8,536.4 673.5,542.6"/>
<polyline class="k" points="664.1,545.8 671.2,541.9"/>
<!-- rings 21/22 and chassis top-left corner -->
<ellipse class="bf" cx="642.4" cy="295.8" rx="7.8" ry="11.6" transform="rotate(27 642.4 295.8)"/>
<ellipse class="k" cx="642.7" cy="296" rx="4.2" ry="7.4" transform="rotate(27 642.7 296)"/>
<ellipse class="bf" cx="659.6" cy="304.7" rx="7.8" ry="11.6" transform="rotate(27 659.6 304.7)"/>
<ellipse class="k" cx="659.9" cy="304.9" rx="4.2" ry="7.4" transform="rotate(27 659.9 304.9)"/>
<ellipse class="bf" cx="686.2" cy="321.3" rx="7.8" ry="11.6" transform="rotate(27 686.2 321.3)"/>
<ellipse class="k" cx="686.5" cy="321.5" rx="4.2" ry="7.4" transform="rotate(27 686.5 321.5)"/>
<ellipse class="bf" cx="701.9" cy="329.8" rx="7.8" ry="11.6" transform="rotate(27 701.9 329.8)"/>
<ellipse class="k" cx="702.2" cy="329.9" rx="4.2" ry="7.4" transform="rotate(27 702.2 329.9)"/>
<text x="606.9" y="326.6">22</text>
<text x="623.6" y="339.6">21</text>
<text x="699.5" y="291.1">21</text>
<text x="719.5" y="295">22</text>
<polyline class="t" points="621.3,314.6 635.4,306"/>
<polyline class="t" points="636.9,326.3 651.8,314.6"/>
<polyline class="t" points="701.9,295.8 692.5,309.9"/>
<polyline class="t" points="719.8,298.9 707.3,316.9"/>
<polyline class="t" points="667.4,309.9 677.6,316.6"/>
<polyline class="t" points="668.7,310.7 668.7,445.2"/>
<polyline class="d" points="590,389.7 683.9,333.4"/>
<polyline class="k" points="615,386.1 646.3,368.1"/>
<polyline class="k" points="656.5,361 690.1,342"/>
<polyline class="p" points="646.3,368.1 656.5,361"/>
<polyline class="k" points="607.2,394.4 611.1,390.5 613.5,391.2 615,386.1"/>
<polyline class="k" points="713.6,328.7 730.8,318.8"/>
<polyline class="p" points="730.8,318.8 748,309.1"/>
<polyline class="k" points="748,309.1 774.6,293.9"/>
<polyline class="p" points="774.6,293.9 794.9,282.2"/>
<polyline class="d" points="590,390.5 671.3,434.3 730.8,467.1"/>
<polyline class="d" points="607.2,394.7 662,424.9 690.1,439.7"/>
<polyline class="d" points="656.5,362.3 699.5,387"/>
<polyline class="t" points="699.5,387 705.8,389.7 704.2,395.2 709.7,398.3 715.2,397 720,399.8"/>
<polyline class="d" points="647.1,368.6 720,408.4"/>
<polyline class="d" points="638.5,371.7 638.5,407.7"/>
<polyline class="t" points="699.5,387 720,375.6"/>
<ellipse class="t" cx="660.4" cy="368.2" rx="0.9" ry="0.6"/>
<ellipse class="t" cx="692.5" cy="386.1" rx="0.9" ry="0.6"/>
<ellipse class="t" cx="625.2" cy="403.8" rx="0.9" ry="0.6"/>
<ellipse class="t" cx="605.6" cy="408.4" rx="0.9" ry="0.6"/>
<ellipse class="t" cx="612.7" cy="412.4" rx="0.9" ry="0.6"/>
<ellipse class="t" cx="662" cy="425.2" rx="0.9" ry="0.6"/>
<ellipse class="t" cx="605.6" cy="424.1" rx="0.9" ry="0.6"/>
<ellipse class="t" cx="715.2" cy="428" rx="2.2" ry="4.7" transform="rotate(-30 715.2 428)"/>
<path class="t" d="M720 343.5C715.2 345.1 710.5 348.2 710.5 352.1C711.2 355.3 715.2 357.6 720 360"/>
<path class="t" d="M608.8 417.1L611.1 416.3L611.9 426.4L609.6 428Z"/>
<polyline class="t" points="611.1,416.3 627.5,424.9 636.9,432.7"/>
<!-- chassis top right -->
<polyline class="d" points="798,284.1 798,329.4"/>
<polyline class="t" points="798,329.4 785.5,337.3 805,349 805,351.3"/>
<polyline class="k" points="805,351 777.7,364.6"/>
<polyline class="t" points="785.5,337.3 759.7,352.1"/>
<path class="t" d="M710.4 357.9C708.5 353.7 710.1 350.6 715.1 348.2L731.5 338.4"/>
<polyline class="d" points="731.5,338.4 810.5,379.5"/>
<polyline class="t" points="810.5,379.5 813.9,379.5"/>
<polyline class="t" points="714.3,352.1 777.7,386.5 776.4,390.8"/>
<polyline class="d" points="710.4,357.9 776.9,393.9"/>
<ellipse class="t" cx="770.6" cy="366.2" rx="2.2" ry="1.3"/>
<ellipse class="t" cx="761.7" cy="371.4" rx="2.2" ry="1.3"/>
<polyline class="t" points="701,386.1 727.6,371.7"/>
<polyline class="k" points="721.3,397 747.9,382"/>
<polyline class="t" points="701,388.9 710.4,393.6 713.5,397.5 726,404.5 724.5,407.7 732.3,408 751.1,416.7"/>
<polyline class="d" points="701,399.8 735.7,417.8"/>
<polyline class="t" points="762.8,399.8 774.5,406.1 772.2,411.6 738.5,439.7"/>
<polyline class="d" points="762.8,399.8 752.6,416.3 736.2,433.5"/>
<ellipse class="t" cx="715.1" cy="428" rx="2.5" ry="5" transform="rotate(-30 715.1 428)"/>
<ellipse class="t" cx="769.8" cy="428" rx="2.2" ry="7.8" transform="rotate(25 769.8 428)"/>
<path class="t" d="M777.7 386.5C782.3 382.6 790.2 380.3 810.5 379.5"/>
<path class="t" d="M776.4 390.8C782.3 395.2 794.9 398.3 806.6 406.9"/>
<path class="t" d="M776.9 394.4C782.3 399.8 779.2 407.7 776.1 413.9C782.3 420.2 794.9 424.9 804.2 431.1"/>
<polyline class="t" points="786.3,389.7 774.5,410.8 766.7,428"/>
<polyline class="t" points="787.8,390.5 776.9,411.6"/>
<ellipse class="t" cx="793.3" cy="389.7" rx="5.6" ry="2.8"/>
<path class="tf" d="M785.2 404.5L785.2 417.1C786.3 421 798.8 421 799.9 417.1L799.9 404.5Z"/>
<ellipse class="tf" cx="792.5" cy="404.2" rx="7.4" ry="3.8"/>
<ellipse class="t" cx="792.5" cy="404.2" rx="4.1" ry="2"/>
<path class="t" d="M799.9 399.8C802.7 401.4 805.5 404.5 806.6 406.9"/>
<path class="t" d="M788.6 439C798 434.3 813.6 431.1 831 430.8"/>
<!-- chassis right: swing circle, 14/16/20B labels -->
<rect x="734.1" y="450.5" width="15.6" height="12" fill="#f7f7f7"/>
<text x="734.6" y="461">14</text>
<rect x="737.3" y="513.1" width="15.6" height="12" fill="#f7f7f7"/>
<text x="737.8" y="523.6">16</text>
<text x="788.1" y="533">20B</text>
<polyline class="t" points="716.6,450.8 732.3,455.5"/>
<polyline class="d" points="729.2,453.5 718.2,462.9"/>
<polyline class="t" points="716.6,521.2 735.7,520.5 716.6,529.1"/>
<polyline class="t" points="786.7,536.1 771.7,556.4"/>
<path class="d" d="M831 429.7C810.5 431.3 791.7 441 789.4 453.2C790.2 467.3 804.2 477 831 478.5"/>
<path class="t" d="M831 444.6C816.8 446.9 807.4 453.2 805.8 462.6C808.9 470.4 819.9 473.5 831 473.5"/>
<path class="d" d="M785.5 487.9C783.6 497.8 792.5 506.7 831 509.8"/>
<path class="t" d="M786.3 487.6C790.2 482.9 801.1 479.8 826.2 479"/>
<polyline class="d" points="747.9,460.2 788.6,439.1"/>
<path class="t" d="M747.9 460.2C754.2 473.5 771.4 481.3 787.4 484.5"/>
<polyline class="t" points="765.9,468.1 802.7,446.9"/>
<polyline class="t" points="765.9,468.1 771.7,478.5"/>
<polyline class="t" points="769.1,470.1 770.6,473.5"/>
<polyline class="t" points="772.2,468.1 774.1,472"/>
<polyline class="t" points="775.3,466.5 776.9,469.9"/>
<path class="t" d="M795.6 452.4L803.5 446.9L810.5 450.8L802.7 456.3Z"/>
<ellipse class="t" cx="803" cy="450.4" rx="0.9" ry="0.6"/>
<ellipse class="t" cx="766.7" cy="444.6" rx="1.7" ry="1.1"/>
<ellipse class="t" cx="788.6" cy="438.3" rx="1.7" ry="1.1"/>
<ellipse class="t" cx="802.7" cy="437.5" rx="1.7" ry="1.1"/>
<ellipse class="t" cx="815.2" cy="436.8" rx="1.7" ry="1.1"/>
<ellipse class="t" cx="803.5" cy="466.5" rx="1.7" ry="1.1"/>
<ellipse class="t" cx="826.9" cy="472" rx="1.7" ry="1.1"/>
<ellipse class="t" cx="737.8" cy="467.6" rx="1.7" ry="1.1"/>
<ellipse class="t" cx="745.6" cy="533.3" rx="1.7" ry="1.1"/>
<ellipse class="t" cx="766.7" cy="542.4" rx="1.7" ry="1.1"/>
<ellipse class="t" cx="815.2" cy="550.2" rx="1.7" ry="1.1"/>
<path class="t" d="M791 547.1C788.6 546.3 787.8 548.6 790.5 548.9"/>
<path class="t" d="M756.5 512.6L783.9 511.9C790.2 510.8 793.3 509.2 796.4 507.9"/>
<polyline class="d" points="757.3,517.3 782.3,516.7"/>
<polyline class="d" points="783.1,517.6 783.1,569"/>
<polyline class="t" points="734.2,506.4 734.2,554.1 729.9,556.8"/>
<polyline class="t" points="718.2,556.8 729.9,556.8"/>
<polyline class="d" points="736.2,433.4 728.4,451.1"/>
<polyline class="t" points="728.4,451.1 718.5,447.1"/>
<polyline class="t" points="772.7,407 745.6,447.5"/>
<polyline class="d" points="691.3,432.6 706.5,439.9"/>
<polyline class="d" points="690,447.1 705.9,455.1"/>
<polyline class="d" points="690,392.2 701,399.8"/>
<polyline class="t" points="690,383.6 701,388.9"/>
<path class="kf" d="M758.6 553.3L758.6 564.3C759.7 567.7 769.1 567.7 770.1 564.3L770.1 553.3Z"/>
<ellipse class="kf" cx="764.4" cy="553" rx="5.8" ry="3.1"/>
<ellipse class="o" cx="764.4" cy="553.5" rx="5.2" ry="2.5"/>
<polyline class="t" points="765.5,568.2 765.5,576.8"/>
<!-- chassis bottom right, label 20 -->
<text x="707.1" y="611.1">20</text>
<polyline class="t" points="697.6,589.9 705.5,596.5"/>
<polyline class="t" points="729.2,554.4 729.2,571.3"/>
<path class="t" d="M715 572.8L785.1 572.5C791.4 573.3 797.7 578.8 802.5 582C808.8 585.1 812.2 583.5 814.3 581.2"/>
<path class="t" d="M711 577.6L782 577.2C788.3 578.8 794.6 583.5 800.9 585.9C807.2 586.7 811.9 584.3 814.3 581.2"/>
<polyline class="d" points="715.8,575 783.5,574.2"/>
<polyline class="t" points="782.8,563.1 788.3,566.2 810.3,577.6 814.3,581.2"/>
<polyline class="t" points="764.9,566.2 764.9,584.7 716.6,558.6"/>
<polyline class="t" points="715.8,571.7 729.2,571.3"/>
<!-- boom foot fork + pin 6 -->
<path class="b" d="M194 623.5L186.9 628.9L157.2 667.3C150.2 676.7 149.4 683.7 154.9 687.3C161.1 689.5 169.7 682.9 179.1 673.5L186.9 666.5"/>
<path class="k" d="M195.1 625.8L190.4 630.5L161.1 668.8C155.3 676.7 154.9 682.1 158 684.5"/>
<ellipse class="k" cx="161.6" cy="677.4" rx="3.9" ry="5.6" transform="rotate(35 161.6 677.4)"/>
<ellipse class="t" cx="160.6" cy="677.9" rx="2.7" ry="4.4" transform="rotate(35 160.6 677.9)"/>
<path class="b" d="M237 621.9L220.6 640.4L215.1 641.5L181 684.5C174.7 692.6 175.7 700.1 181.9 703.2C188.5 705.1 197.9 697.3 205.7 689.2L214.8 678.2L220.1 668.8L247.9 641.5"/>
<path class="k" d="M234.2 623.8L222.1 642.6L217 644.6L184.6 685.7C179.9 692.3 180.4 697.8 183.8 700.1"/>
<ellipse class="k" cx="187.7" cy="693.9" rx="3.9" ry="5.6" transform="rotate(35 187.7 693.9)"/>
<ellipse class="t" cx="186.8" cy="694.3" rx="2.7" ry="4.4" transform="rotate(35 186.8 694.3)"/>
<path class="k" d="M192.4 684.5L195.5 682.6L198.2 688.4L195.1 690.4Z"/>
<polyline class="b" points="237,621.9 247.9,641.5"/>
<polyline class="k" points="194,630.5 208.8,626.6 212.7,628.2 212.7,643"/>
<polyline class="k" points="194,630.5 190.1,632.9 178.3,662.6 190.1,669.6 208.8,645.4"/>
<polyline class="k" points="191.6,632.1 213.5,644.1"/>
<path class="k" d="M168.2 642.6l2.8 -1.9l2.2 1.9l-1.6 3.4l-2.5 -0.9Z"/>
<path class="k" d="M200.2 662.6l2.8 -1.9l2.5 2.2l-1.6 4.1l-2.5 -1.3Z"/>
<path class="kf" d="M207 710.1L264.8 744.2L270.2 735.2L212.3 701.1C208.5 698.7 203 707.9 207 710.1Z"/>
<ellipse class="kf" cx="267.5" cy="739.7" rx="3.4" ry="5.3" transform="rotate(30.50613224172385 267.5 739.7)"/>
<ellipse class="t" cx="262" cy="733" rx="1.3" ry="0.8" transform="rotate(25 262 733)"/>
<text x="238.9" y="693.5">6</text>
<polyline class="t" points="239.3,697.8 231,711.4"/>
<polyline class="t" points="165,679.8 177.5,686.8"/>
<polyline class="t" points="190.8,695.4 204.1,702.5"/>
<polyline class="t" points="170.5,686.8 158.8,699.3"/>
<text x="139.7" y="747.8">24</text>
<path class="kf" d="M162.7 748.3c0 -2.8 6.3 -2.8 6.3 0l0 2.2l-6.3 0Z"/>
<polyline class="k" points="164.1,750.5 164.1,771.8 167.5,771.8 167.5,750.5"/>
<polyline class="t" points="165.8,757.7 165.8,771.5"/>
<text x="186.9" y="765">13</text>
<polyline class="t" points="169.7,757.2 183.8,758.3"/>
<!-- centre cylinder rod eye, rings -->
<text x="400.3" y="567.4">4</text>
<text x="320.5" y="594.8">24</text>
<text x="311.9" y="613.2">23</text>
<text x="341.3" y="615.9">8</text>
<text x="358" y="644.5">10</text>
<text x="338.8" y="657.6">25</text>
<text x="386.6" y="647.9">8</text>
<text x="398.7" y="662">23</text>
<text x="420.1" y="669.5">24</text>
<polyline class="t" points="337.7,591.3 353.3,591.3"/>
<polyline class="t" points="330.6,606.5 365.1,600.2"/>
<polyline class="t" points="351.8,608.8 376.8,607.3"/>
<polyline class="t" points="364.7,632.3 362.7,622.1"/>
<polyline class="t" points="346.3,646.4 347.9,629.2"/>
<polyline class="t" points="397.1,639.3 408.1,627.6"/>
<polyline class="t" points="412,647.9 419.8,636.2"/>
<polyline class="t" points="425.3,655.8 431.5,644"/>
<polyline class="t" points="408.9,554.1 413.6,547.8"/>
<polyline class="t" points="354.1,585.4 354.1,560.3 440.2,618.2"/>
<polyline class="t" points="377.9,540 377.9,575.2"/>
<ellipse class="kf" cx="360.1" cy="590.1" rx="6.3" ry="8.1" transform="rotate(30 360.1 590.1)"/>
<ellipse class="k" cx="360.4" cy="590.1" rx="3.3" ry="5" transform="rotate(30 360.4 590.1)"/>
<ellipse class="kf" cx="370.1" cy="598.2" rx="6.3" ry="8.1" transform="rotate(30 370.1 598.2)"/>
<ellipse class="k" cx="370.4" cy="598.2" rx="3.3" ry="5" transform="rotate(30 370.4 598.2)"/>
<ellipse class="o" cx="380.7" cy="604.9" rx="3.8" ry="4.8" transform="rotate(30 380.7 604.9)"/>
<ellipse class="kf" cx="393.2" cy="611.2" rx="7.8" ry="9.7" transform="rotate(20 393.2 611.2)"/>
<polygon fill="#f7f7f7" stroke="none" points="389.9,620.3 395.4,623.4 402,605.2 396.5,602.1"/>
<polyline class="k" points="389.9,620.3 395.4,623.4"/>
<polyline class="k" points="396.5,602.1 402,605.2"/>
<ellipse class="kf" cx="398.7" cy="614.3" rx="7.8" ry="9.7" transform="rotate(20 398.7 614.3)"/>
<ellipse class="t" cx="400.3" cy="614.8" rx="2.5" ry="3" transform="rotate(20 400.3 614.8)"/>
<ellipse class="t" cx="389.8" cy="615.9" rx="0.9" ry="1.3"/>
<path class="kf" d="M406.5 604.9L413.6 606.5L413.9 617.4L407.3 618.2Z"/>
<polyline class="t" points="408.5,605.4 408.9,617.9"/>
<polyline class="t" points="410.4,605.7 410.7,617.7"/>
<polyline class="t" points="412.1,606.2 412.5,617.6"/>
<polyline class="k" points="413.9,607 427.6,605.1"/>
<polyline class="k" points="413.9,617.1 426.9,616.7"/>
<polyline class="t" points="366.6,619 388.5,616.3"/>
<path class="k" d="M445 598.2C437 597.9 430.8 601 428.9 605.7C427.9 610.4 430 616.7 433.9 619.8C436.2 621.7 440.2 622.6 445 622.6"/>
<path class="k" d="M435.5 602.6C433.9 607.3 434.7 613.5 437.8 617.4"/>
<polyline class="t" points="416.7,617 426.9,617"/>
<polyline class="t" points="430.8,617.4 438.6,617.4"/>
<ellipse class="o" cx="411.2" cy="622.9" rx="3.9" ry="5.2" transform="rotate(30 411.2 622.9)"/>
<ellipse class="kf" cx="422.9" cy="629.5" rx="6.3" ry="8.1" transform="rotate(30 422.9 629.5)"/>
<ellipse class="k" cx="423.3" cy="629.5" rx="3.3" ry="5" transform="rotate(30 423.3 629.5)"/>
<ellipse class="kf" cx="434.7" cy="637" rx="6.3" ry="8.1" transform="rotate(30 434.7 637)"/>
<ellipse class="k" cx="435" cy="637" rx="3.3" ry="5" transform="rotate(30 435 637)"/>
<polyline class="t" points="440.2,640.1 445.6,642.6"/>
<path class="x" d="M358 620.1C358.8 618.2 361.9 617.4 364.3 618.2L367.4 619.5L364.7 621.3C362.7 622.6 359.6 622.6 358 620.1Z"/>
<path class="k" d="M345.5 621.3C346.3 620.1 348.6 620.1 349.7 621.3L350.2 625.3C351 624.5 352.5 622.1 353.3 620.6L355.4 620.1C355.4 623.7 352.5 627.6 348.6 629.2C346.3 628.4 345 624.5 345.5 621.3Z"/>
<!-- centre cylinder body + right rings -->
<text x="473.6" y="560">24</text>
<text x="493.2" y="560">23</text>
<text x="511.2" y="578.3">8</text>
<text x="528.4" y="590.8">10</text>
<text x="510.4" y="638.2">8</text>
<text x="522.4" y="656.1">23</text>
<text x="430.6" y="581">15</text>
<polyline class="t" points="483,561.9 483.8,575.2"/>
<polyline class="t" points="497.9,565 490.1,578.3"/>
<polyline class="t" points="508.8,577.5 497.9,586.1"/>
<polyline class="t" points="544,593.2 548.7,605.7"/>
<polyline class="t" points="521.3,627.9 533.9,621.3"/>
<polyline class="t" points="537.8,641.7 546.4,630.7"/>
<polyline class="t" points="459.6,581.9 449.4,579.1 459.6,590.1"/>
<polyline class="t" points="472.9,577.5 513.5,561.9 545.1,581.1"/>
<polyline class="t" points="440,554.1 461.1,568.2"/>
<polyline class="d" points="464.2,560.3 464.2,577.5"/>
<path class="n" d="M460.2 581.5l1.7 -2l3.8 0l1.7 2l0 1.7l-1.7 1.7l-3.8 0l-1.7 -1.7Z"/>
<ellipse class="nh" cx="463.8" cy="581.6" rx="1.6" ry="0.8"/>
<path class="n" d="M460.2 589.9l1.7 -2l3.8 0l1.7 2l0 1.7l-1.7 1.7l-3.8 0l-1.7 -1.7Z"/>
<ellipse class="nh" cx="463.8" cy="590.1" rx="1.6" ry="0.8"/>
<polyline class="k" points="435.3,599.3 474.4,598.5"/>
<polyline class="d" points="474.4,598.5 491.6,598"/>
<polyline class="k" points="491.6,598 510.4,597.6"/>
<polyline class="k" points="436.1,621.8 458.8,621.2"/>
<polyline class="d" points="458.8,621.2 486.9,620.4"/>
<polyline class="k" points="486.9,620.4 512,619.8"/>
<path class="k" d="M510.4 597.6C515.1 597.9 517.4 604.1 517.4 609.6C517.4 615.1 515.1 619 512 620.1"/>
<path class="k" d="M507.3 597.7C512 598.2 514.3 604.1 514.3 609.6C514.3 615.1 512.3 619 509.1 620.1"/>
<path class="k" d="M517 600.7L530 598.8C533.9 600.2 535.4 604.1 533.9 608.8C532.3 613.5 527.6 617.4 521.3 618.2L516.3 615.4"/>
<ellipse class="k" cx="528.4" cy="608.8" rx="2.7" ry="3.9" transform="rotate(20 528.4 608.8)"/>
<ellipse class="k" cx="494.8" cy="615.9" rx="2.8" ry="2.8"/>
<ellipse class="k" cx="508.1" cy="614.8" rx="2.8" ry="2.8"/>
<ellipse class="k" cx="497.6" cy="617" rx="1.6" ry="1.9"/>
<polyline class="k" points="496.3,613.5 507.3,612.3"/>
<polyline class="k" points="499.1,618.2 508.8,617.4"/>
<path class="k" d="M440 602.6C443.1 604.1 444.7 608.8 443.9 613.5C443.1 617.4 441.6 619.8 440 620.6"/>
<path class="k" d="M440 621.3L445.5 623.7L445.5 643.2L440 640.9"/>
<ellipse class="kf" cx="481" cy="583.5" rx="6.3" ry="8.1" transform="rotate(30 481 583.5)"/>
<ellipse class="k" cx="481.3" cy="583.5" rx="3.4" ry="5.2" transform="rotate(30 481.3 583.5)"/>
<ellipse class="kf" cx="486.6" cy="586.6" rx="6.3" ry="8.1" transform="rotate(30 486.6 586.6)"/>
<ellipse class="k" cx="486.9" cy="586.6" rx="3.4" ry="5.2" transform="rotate(30 486.9 586.6)"/>
<ellipse class="o" cx="494" cy="590.4" rx="3.8" ry="5.3" transform="rotate(30 494 590.4)"/>
<ellipse class="o" cx="537" cy="615.4" rx="3.9" ry="5.3" transform="rotate(30 537 615.4)"/>
<ellipse class="kf" cx="548.7" cy="622.9" rx="5.9" ry="8.1" transform="rotate(30 548.7 622.9)"/>
<ellipse class="k" cx="549" cy="622.9" rx="3.1" ry="5" transform="rotate(30 549 622.9)"/>
<ellipse class="kf" cx="560.5" cy="629.5" rx="5.9" ry="8.1" transform="rotate(30 560.5 629.5)"/>
<ellipse class="k" cx="560.8" cy="629.5" rx="3.1" ry="5" transform="rotate(30 560.8 629.5)"/>
<polyline class="t" points="565.9,632.3 570.6,634.6"/>
<path class="x" d="M544 608.1L548.7 606L553.4 607.7L548.7 610.1Z"/>
<polyline class="t" points="538.6,608.4 565.2,607.3"/>
<!-- right bracket of centre cylinder, 25, nuts 16 -->
<polyline class="t" points="545,581.1 605.2,619.4 569.2,634.3 565.3,632.7"/>
<polyline class="t" points="562.2,592.1 627.9,571"/>
<text x="581.8" y="657.8">25</text>
<polyline class="t" points="572.4,609.3 586.5,645.3"/>
<text x="545.8" y="662.5">24</text>
<polyline class="t" points="551.3,648.4 556,637.4"/>
<path class="k" d="M566.9 604.6C564.6 606.1 564.1 610.1 566.1 612.4C567.7 613.5 569.7 612.9 570.8 611.3"/>
<ellipse class="k" cx="572.8" cy="605.7" rx="2.2" ry="2.2"/>
<polyline class="t" points="551.3,608.2 564.6,607.7"/>
<path class="n" d="M650.9 618.4l1.7 -2l3.8 0l1.7 2l0 1.7l-1.7 1.7l-3.8 0l-1.7 -1.7Z"/>
<ellipse class="nh" cx="654.5" cy="618.5" rx="1.6" ry="0.8"/>
<path class="n" d="M650.9 627.3l1.7 -2l3.8 0l1.7 2l0 1.7l-1.7 1.7l-3.8 0l-1.7 -1.7Z"/>
<ellipse class="nh" cx="654.5" cy="627.4" rx="1.6" ry="0.8"/>
<polyline class="t" points="658.4,619.4 673.6,627 658.4,628.1"/>
<polyline class="t" points="654.5,592.1 654.5,614.8"/>
<text x="678" y="632">16</text>
<!-- bottom-left: arm (phantom), links, pin 5, rings -->
<text x="100.9" y="726.3">24</text>
<text x="122.6" y="738.1">23</text>
<text x="130.2" y="802.6">5</text>
<text x="197.7" y="806.4">15</text>
<polyline class="t" points="116.4,713.8 127.7,702.5"/>
<polyline class="t" points="141.4,708.8 136.4,723.8 156.4,717.5"/>
<polyline class="t" points="150.2,733.8 167.7,725.1"/>
<polyline class="t" points="133.9,791.4 134.4,777.6"/>
<polyline class="t" points="172.7,797.6 192.7,801.4 172.7,805.2"/>
<ellipse class="kf" cx="132.2" cy="697" rx="5.5" ry="7.8" transform="rotate(30 132.2 697)"/>
<ellipse class="k" cx="132.4" cy="697" rx="2.8" ry="4.8" transform="rotate(30 132.4 697)"/>
<ellipse class="kf" cx="143.9" cy="704.5" rx="5.5" ry="7.8" transform="rotate(30 143.9 704.5)"/>
<ellipse class="k" cx="144.2" cy="704.5" rx="2.8" ry="4.8" transform="rotate(30 144.2 704.5)"/>
<ellipse class="kf" cx="160.2" cy="713.8" rx="5.5" ry="7.8" transform="rotate(30 160.2 713.8)"/>
<ellipse class="k" cx="160.4" cy="713.8" rx="2.8" ry="4.8" transform="rotate(30 160.4 713.8)"/>
<ellipse class="kf" cx="172.2" cy="721.3" rx="5.5" ry="7.8" transform="rotate(30 172.2 721.3)"/>
<ellipse class="k" cx="172.5" cy="721.3" rx="2.8" ry="4.8" transform="rotate(30 172.5 721.3)"/>
<polyline class="t" points="57.1,680 57.1,716.3"/>
<polyline class="t" points="109.6,680 109.6,707.5"/>
<path class="t" d="M43.5 712.7C44.6 706.4 53.2 702.5 58.7 708.8L60.2 713.5"/>
<polyline class="t" points="43.5,712.7 26.3,797.9"/>
<polyline class="t" points="46.1,713.5 29.4,795.6"/>
<polyline class="d" points="49.7,726 35.2,790.1"/>
<polyline class="t" points="55.1,727.5 44.6,790.1"/>
<ellipse class="t" cx="52.9" cy="718.2" rx="3.4" ry="5" transform="rotate(10 52.9 718.2)"/>
<path class="t" d="M26.3 797.9C26.6 801.9 29.7 805 33.6 805.8"/>
<ellipse class="tf" cx="37.9" cy="797.2" rx="6.6" ry="8.1" transform="rotate(15 37.9 797.2)"/>
<ellipse class="t" cx="38.8" cy="797.6" rx="3.8" ry="5.2" transform="rotate(15 38.8 797.6)"/>
<polyline class="t" points="57.6,729.9 43.5,806.5"/>
<polyline class="t" points="60.4,732.6 46.9,802.6"/>
<polyline class="d" points="53.2,735.4 46.9,768.2"/>
<path class="t" d="M43.5 806.5C43.8 811.2 46.9 814.4 50.8 814.8"/>
<ellipse class="tf" cx="54.3" cy="806.5" rx="6.6" ry="8.1" transform="rotate(15 54.3 806.5)"/>
<ellipse class="t" cx="55.2" cy="807" rx="3.8" ry="5.2" transform="rotate(15 55.2 807)"/>
<ellipse class="tf" cx="61.3" cy="720" rx="6.9" ry="8.4" transform="rotate(-20 61.3 720)"/>
<ellipse class="tf" cx="63.5" cy="721.8" rx="6.9" ry="8.4" transform="rotate(-20 63.5 721.8)"/>
<ellipse class="tf" cx="65.7" cy="723.5" rx="6.9" ry="8.4" transform="rotate(-20 65.7 723.5)"/>
<ellipse class="tf" cx="67.9" cy="725.2" rx="6.9" ry="8.4" transform="rotate(-20 67.9 725.2)"/>
<ellipse class="t" cx="69.8" cy="726.3" rx="2.2" ry="2.8" transform="rotate(-20 69.8 726.3)"/>
<polyline class="t" points="60.2,745.1 75.1,744"/>
<polyline class="d" points="75.1,744 112.6,768.2"/>
<polyline class="d" points="77.4,723.6 84.5,732.2"/>
<path class="t" d="M60.2 745.5L62.6 813.6L66.5 820.2L68.8 815.9"/>
<path class="t" d="M59.1 810.5C61 811.2 62.6 813.6 62.6 815.2"/>
<path class="t" d="M86.8 756.5C87.6 752.6 92.3 751.8 97 755.7L109.5 766.7"/>
<path class="t" d="M86.8 756.5L90.7 793.2L106.4 828.4L109.5 828.4L111.9 799.5L111.9 785.4"/>
<polyline class="t" points="89.5,757.3 93.1,792.5 107.6,826.1"/>
<ellipse class="tf" cx="104.8" cy="775.3" rx="7" ry="8.6" transform="rotate(15 104.8 775.3)"/>
<ellipse class="tf" cx="107.6" cy="776.4" rx="7" ry="8.6" transform="rotate(15 107.6 776.4)"/>
<ellipse class="t" cx="108.6" cy="777" rx="3.8" ry="5" transform="rotate(15 108.6 777)"/>
<polyline class="t" points="73.8,728.8 126.4,760.6"/>
<polyline class="t" points="160.2,778.9 170.7,785.6"/>
<path class="kf" d="M127.4 769.9L151.9 782.9L157.4 772.4L132.9 759.3C128.7 757.1 123.1 767.6 127.4 769.9Z"/>
<ellipse class="kf" cx="154.7" cy="777.6" rx="3.8" ry="6" transform="rotate(27.95096902789018 154.7 777.6)"/>
<ellipse class="t" cx="149.7" cy="771.4" rx="1.5" ry="1"/>
<polyline class="d" points="165.2,773.9 165.2,790.6"/>
<path class="n" d="M160.9 796.6l1.8 -2l3.8 0l1.8 2l0 1.8l-1.8 1.8l-3.8 0l-1.8 -1.8Z"/>
<ellipse class="nh" cx="164.7" cy="797" rx="1.6" ry="0.8"/>
<path class="n" d="M160.9 804.9l1.8 -2l3.8 0l1.8 2l0 1.8l-1.8 1.8l-3.8 0l-1.8 -1.8Z"/>
<ellipse class="nh" cx="164.7" cy="805.3" rx="1.6" ry="0.8"/>
<polyline class="d" points="51.3,815.2 76.3,1004"/>
<polyline class="d" points="67.6,820.2 90.1,987.7"/>
<polyline class="d" points="107.6,830 111.4,972.7"/>
<polyline class="d" points="111.4,830 115.1,1015.2"/>
<polyline class="d" points="109.5,836 113.2,975"/>
<!-- bolt 13 / nuts 15 at pin 6, label 1 -->
<polyline class="t" points="271.5,742.6 285.5,750.1"/>
<path class="kf" d="M281.6 712.4c0 -2.8 6.3 -2.8 6.3 0l0 2.2l-6.3 0Z"/>
<polyline class="k" points="283,714.6 283,736.6 286.5,736.6 286.5,714.6"/>
<polyline class="t" points="284.8,721.8 284.8,736.3"/>
<polyline class="d" points="284.4,738.7 284.4,758.2"/>
<text x="302" y="717.5">13</text>
<polyline class="t" points="288.7,712.9 298.1,712.9"/>
<path class="n" d="M280.8 761.7l1.7 -2l3.8 0l1.7 2l0 1.7l-1.7 1.7l-3.8 0l-1.7 -1.7Z"/>
<ellipse class="nh" cx="284.4" cy="761.8" rx="1.6" ry="0.8"/>
<path class="n" d="M280.8 770.6l1.7 -2l3.8 0l1.7 2l0 1.7l-1.7 1.7l-3.8 0l-1.7 -1.7Z"/>
<ellipse class="nh" cx="284.4" cy="770.7" rx="1.6" ry="0.8"/>
<text x="309" y="770.7">15</text>
<polyline class="t" points="288.7,763.7 303.5,766.4 288.7,771.5"/>
<text x="379" y="403">1</text>
<polyline class="t" points="382.5,406 380.7,428.5"/>
<!-- chassis front-left panel details -->
<polyline class="t" points="589.4,389.6 641,370"/>
<polyline class="t" points="589.4,389.6 607.4,389.6 613.6,386.4 615.7,390.3 608.5,394.7"/>
<polyline class="d" points="638.7,373.1 638.7,403.6"/>
<path class="t" d="M608.9 416.9L608.9 426.6M610.5 416.1C619.1 420.1 631.6 426.3 638.7 431.8L639.4 442.7"/>
<polyline class="k" points="609.7,435.7 638.7,451.3"/>
<polyline class="d" points="609.7,439.1 626.9,448.2"/>
<ellipse class="t" cx="605.8" cy="408.3" rx="0.9" ry="0.8"/>
<ellipse class="t" cx="612.5" cy="412.2" rx="0.9" ry="0.8"/>
<ellipse class="t" cx="605.8" cy="424" rx="0.9" ry="0.8"/>
<ellipse class="t" cx="624.6" cy="403.6" rx="0.9" ry="0.8"/>
<ellipse class="t" cx="661.3" cy="425.1" rx="0.9" ry="0.8"/>
<ellipse class="t" cx="666.8" cy="428.2" rx="0.9" ry="0.8"/>
<ellipse class="t" cx="664.5" cy="442" rx="0.9" ry="0.8"/>
<ellipse class="t" cx="671.5" cy="446.3" rx="0.9" ry="0.8"/>
<ellipse class="t" cx="687.2" cy="438.8" rx="0.9" ry="0.8"/>
<ellipse class="t" cx="691.9" cy="385.6" rx="0.9" ry="0.8"/>
<polyline class="t" points="616,467.8 631.6,476.4"/>
<polyline class="t" points="680.1,434.1 686.4,431.8 692.6,434.9"/>
<polyline class="k" points="715.9,495.8 733.5,507.2 736.1,556.1 716.5,557.7"/>
<polyline class="k" points="733.5,507.2 713.3,517"/>
</svg>
</body></html>
